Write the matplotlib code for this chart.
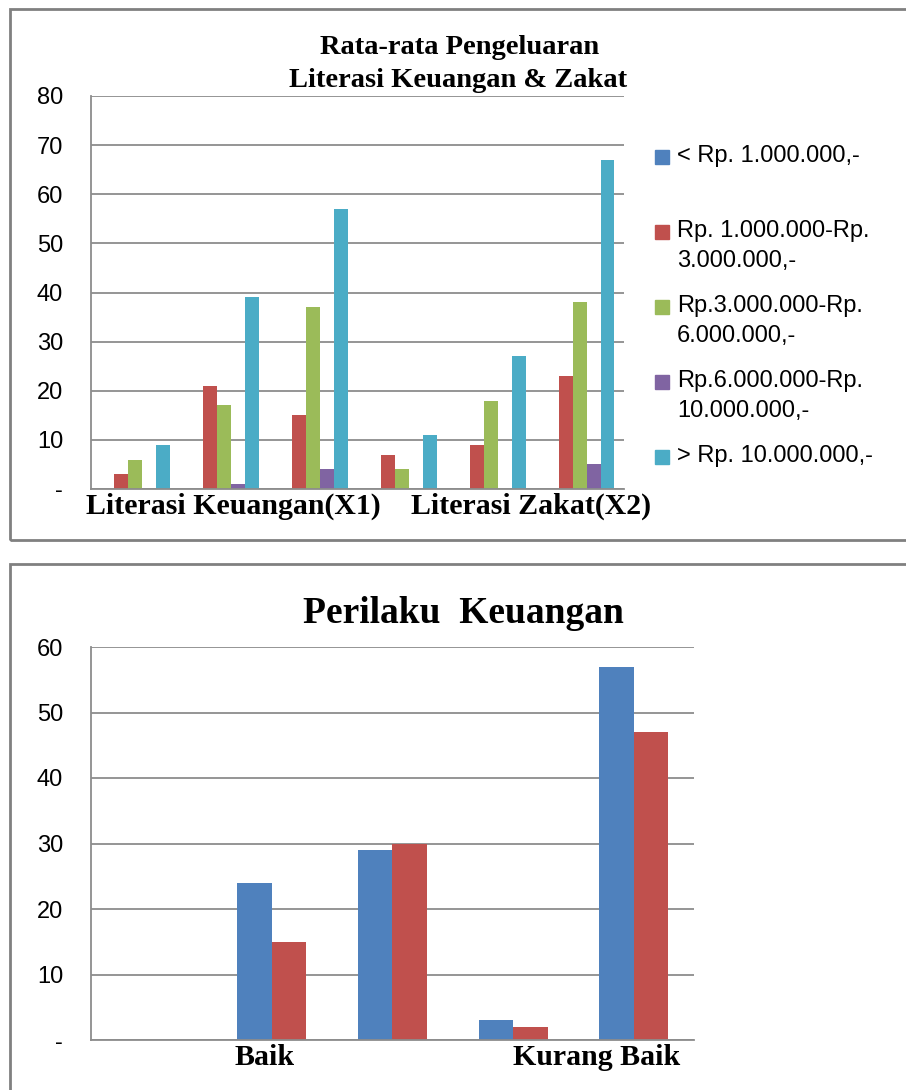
import numpy as np
from matplotlib import pyplot as plt
from matplotlib.patches import Rectangle
from matplotlib.ticker import FuncFormatter

# chart 1: Rata-rata Pengeluaran - Literasi Keuangan & Zakat
top_series = ["< Rp. 1.000.000,-",
              "Rp. 1.000.000-Rp.\n3.000.000,-",
              "Rp.3.000.000-Rp.\n6.000.000,-",
              "Rp.6.000.000-Rp.\n10.000.000,-",
              "> Rp. 10.000.000,-"]
top_below_1jt = [0, 0, 0, 0, 0, 0]
top_1_3jt = [3, 21, 15, 7, 9, 23]
top_3_6jt = [6, 17, 37, 4, 18, 38]
top_6_10jt = [0, 1, 4, 0, 0, 5]
top_above_10jt = [9, 39, 57, 11, 27, 67]
top_labels = ["Literasi Keuangan(X1)", "Literasi Zakat(X2)"]

# chart 2: Perilaku Keuangan
bottom_blue = [0, 24, 29, 3, 57]
bottom_red = [0, 15, 30, 2, 47]
bottom_labels = ["Baik", "Kurang Baik"]

COLORS = ["#4F81BD", "#C0504D", "#9BBB59", "#8064A2", "#4BACC6"]
GRID = "#8c8c8c"
SERIF = "Liberation Serif"
SANS = "Liberation Sans"

W, H = 906, 1090
def box(l, t, r, b):
    return [l / W, 1 - b / H, (r - l) / W, (b - t) / H]

fig = plt.figure(figsize=(W / 100, H / 100), dpi=100)

# panel borders
for t, b in [(9, 540), (564, 1100)]:
    fig.add_artist(Rectangle((10 / W, 1 - b / H), (W + 20) / W, (b - t) / H,
                             transform=fig.transFigure, fill=False,
                             edgecolor="#808080", lw=2))

zero_dash = FuncFormatter(lambda v, p: "-" if v == 0 else "%d" % v)

def style(ax, ymax):
    ax.set_ylim(0, ymax)
    ax.set_yticks(np.arange(0, ymax + 1, 10))
    ax.yaxis.set_major_formatter(zero_dash)
    ax.grid(axis="y", color=GRID, lw=1.3)
    ax.set_axisbelow(True)
    for s in ["top", "right"]:
        ax.spines[s].set_visible(False)
    ax.spines["left"].set_color(GRID)
    ax.spines["bottom"].set_color(GRID)
    ax.spines["left"].set_linewidth(1.3)
    ax.spines["bottom"].set_linewidth(1.3)
    ax.tick_params(axis="y", length=0, pad=20, labelsize=17)
    ax.tick_params(axis="x", length=0, pad=3)
    for lab in ax.get_yticklabels():
        lab.set_fontfamily(SANS)

# ---- top chart
ax1 = fig.add_axes(box(91, 96, 624, 489))
top_data = [top_below_1jt, top_1_3jt, top_3_6jt, top_6_10jt, top_above_10jt]
x1 = np.arange(len(top_1_3jt))
w1 = 0.157
for i, vals in enumerate(top_data):
    ax1.bar(x1 + (i - 2) * w1, vals, w1, color=COLORS[i], label=top_series[i])
ax1.set_xlim(-0.5, len(x1) - 0.5)
style(ax1, 80)
ax1.set_xticks([1.1, 4.45], top_labels, fontfamily=SERIF,
               fontweight="bold", fontsize=21.5)

fig.text(460 / W, 1 - 54 / H, "Rata-rata Pengeluaran", ha="center",
         va="baseline", fontfamily=SERIF, fontweight="bold", fontsize=20.5)
fig.text(458 / W, 1 - 87 / H, "Literasi Keuangan & Zakat", ha="center",
         va="baseline", fontfamily=SERIF, fontweight="bold", fontsize=20.5)

# legend, entries spaced evenly, marker on first line
for i, name in enumerate(top_series):
    yc = 157 + i * 75
    fig.add_artist(Rectangle((655 / W, 1 - (yc + 7) / H), 14 / W, 14 / H,
                             transform=fig.transFigure, color=COLORS[i]))
    fig.text(677 / W, 1 - (yc - 12) / H, name, ha="left", va="top",
             fontfamily=SANS, fontsize=17, linespacing=1.45)

# ---- bottom chart
ax2 = fig.add_axes(box(91, 647, 694, 1040))
x2 = np.arange(len(bottom_blue))
w2 = 0.286
ax2.bar(x2 - w2 / 2, bottom_blue, w2, color=COLORS[0])
ax2.bar(x2 + w2 / 2, bottom_red, w2, color=COLORS[1])
ax2.set_xlim(-0.5, len(x2) - 0.5)
style(ax2, 60)
ax2.set_xticks([0.94, 3.69], bottom_labels, fontfamily=SERIF,
               fontweight="bold", fontsize=21.5)

fig.text(463 / W, 1 - 623 / H, "Perilaku  Keuangan", ha="center",
         va="baseline", fontfamily=SERIF, fontweight="bold", fontsize=27)

fig.savefig("out.png", dpi=100)
